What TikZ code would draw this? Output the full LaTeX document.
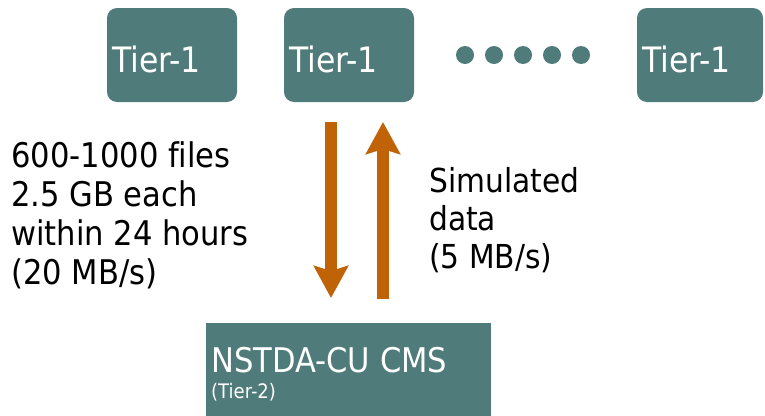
\documentclass[tikz,border=0pt]{standalone}
\usepackage{fontspec}
\setmainfont{DejaVu Sans}[FakeStretch=0.9, Ligatures=NoCommon]
\usetikzlibrary{arrows.meta}
\usetikzlibrary{positioning}

\definecolor{tealbox}{RGB}{79,123,122}
\definecolor{flowarrow}{RGB}{192,98,6}

\tikzset{
  tierbox/.style={fill=tealbox, text=white, rounded corners=10pt,
    minimum width=130pt, minimum height=94pt, text width=120pt, align=left,
    inner xsep=5pt, text height=34pt, text depth=0pt,
    font=\fontsize{35}{40}\selectfont},
  flow/.style={draw=flowarrow, line width=12pt,
    -{Stealth[length=32pt,width=34pt,inset=5pt]}},
  note/.style={align=left, anchor=base west, font=\fontsize{34}{39}\selectfont}
}

\begin{document}
\begin{tikzpicture}[x=1pt, y=-1pt]
  \useasboundingbox (0,0) rectangle (765,415);

  \node (tierA) [tierbox] at (172,55) {Tier-1};
  \node (tierB) [tierbox] at (349,55) {Tier-1};
  \node (tierC) [tierbox, minimum width=126pt, text width=116pt] at (700,55) {Tier-1};

  \foreach \x in {465,494,523,552,581}
    \fill[tealbox] (\x,55) circle (9pt);

  \node (cms) [fill=tealbox, minimum width=285pt, minimum height=100pt,
    anchor=north west, inner sep=0pt] at (206,323) {};
  \node (cmsname) [anchor=base west, text=white, inner sep=0pt,
    font=\fontsize{34}{40}\selectfont] at (211,372) {NSTDA-CU CMS};
  \node (cmstier) [anchor=base west, text=white, inner sep=0pt,
    font=\fontsize{20}{24}\selectfont] at (211,398) {(Tier-2)};

  \coordinate (downtop) at (331,122);
  \coordinate (downend) at (331,298);
  \coordinate (uptop) at (383,122);
  \coordinate (upend) at (383,299);
  \draw [flow] (downtop) -- (downend);
  \draw [flow] (upend) -- (uptop);

  % base anchor sits on the last line
  \node (volume) [note, inner sep=0pt] at (11,284)
    {600-1000 files\\2.5 GB each\\within 24 hours\\(20 MB/s)};
  \node (simdata) [note, inner sep=0pt, font=\fontsize{33}{38}\selectfont] at (429,268)
    {Simulated\\data\\(5 MB/s)};
\end{tikzpicture}
\end{document}
